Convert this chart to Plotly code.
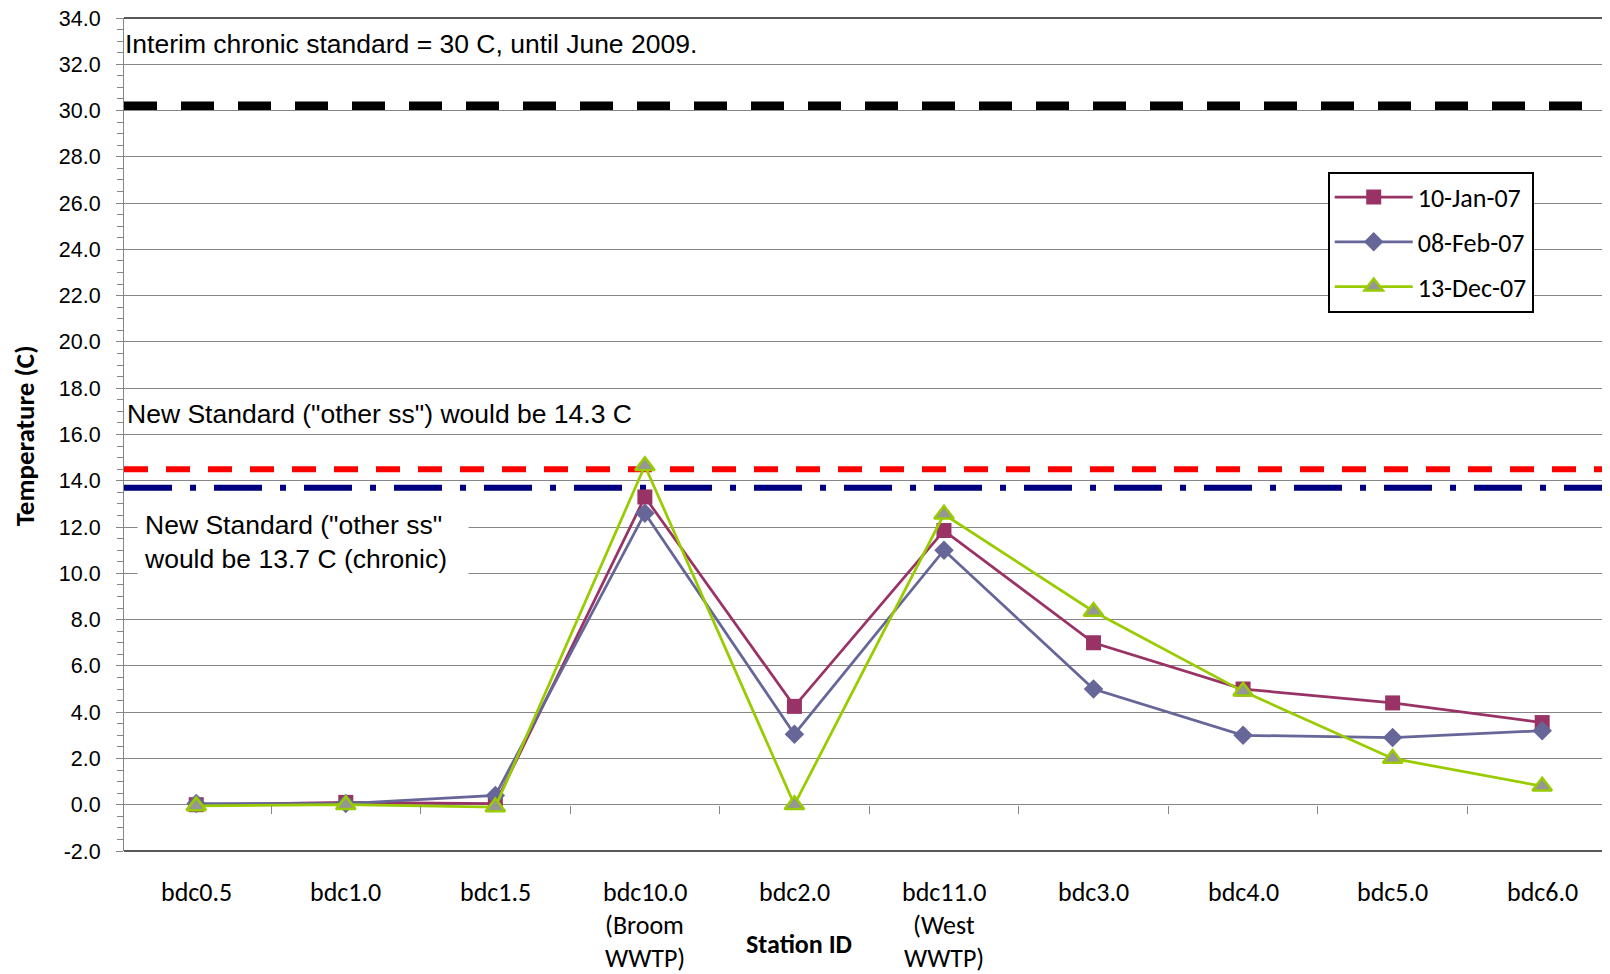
import plotly.graph_objects as go

# stations on the x axis (category names) and the text shown under each one
station_ids = ['bdc0.5', 'bdc1.0', 'bdc1.5', 'bdc10.0', 'bdc2.0',
               'bdc11.0', 'bdc3.0', 'bdc4.0', 'bdc5.0', 'bdc6.0']
tick_labels = ['bdc0.5', 'bdc1.0', 'bdc1.5', 'bdc10.0\n(Broom\nWWTP)', 'bdc2.0',
               'bdc11.0\n(West\nWWTP)', 'bdc3.0', 'bdc4.0', 'bdc5.0', 'bdc6.0']

# temperatures (C) per sampling date
jan_10_07 = [0.0, 0.1, 0.05, 13.3, 4.25, 11.85, 7.0, 5.0, 4.4, 3.55]
feb_08_07 = [0.05, 0.05, 0.4, 12.6, 3.05, 11.0, 5.0, 3.0, 2.9, 3.2]
dec_13_07 = [-0.05, 0.0, -0.1, 14.65, 0.0, 12.55, 8.35, 4.9, 2.0, 0.8]

# standards (horizontal lines)
interim_std = 30.2
other_ss_std = 14.5
chronic_std = 13.7

# y axis ticks (hyphen minus like the original)
y_tick_vals = [-2, 0, 2, 4, 6, 8, 10, 12, 14, 16, 18, 20, 22, 24, 26, 28, 30, 32, 34]
y_tick_text = ['%.1f' % v for v in y_tick_vals]

Y_MIN, Y_MAX = -2, 34
GRID = '#868686'
ARIAL = 'Liberation Sans, Arial, sans-serif'
CALIBRI = 'Carlito, Lato, sans-serif'

fig = go.Figure()

series = [
    ('10-Jan-07', jan_10_07, '#993366', dict(symbol='square', size=15, color='#993366')),
    ('08-Feb-07', feb_08_07, '#666699', dict(symbol='diamond', size=15, color='#666699')),
    ('13-Dec-07', dec_13_07, '#99CC00', dict(symbol='triangle-up', size=17, color='#969696',
                                             line=dict(color='#99CC00', width=2.5))),
]
for name, vals, col, mk in series:
    fig.add_trace(go.Scatter(
        x=station_ids, y=vals, name=name, legendgroup=name,
        mode='lines+markers',
        line=dict(color=col, width=2.75),
        marker=mk,
    ))

# standards drawn across the full plot width
for val, col, w, dash in [(interim_std, 'black', 9, '33px,24px'),
                          (other_ss_std, '#FF0000', 6, '24px,18px'),
                          (chronic_std, '#000080', 6, '48px,18px,6px,18px')]:
    fig.add_shape(type='line', xref='paper', x0=0, x1=1, yref='y', y0=val, y1=val,
                  line=dict(color=col, width=w, dash=dash), layer='between')

# plot frame top/bottom
for yy in [0, 1]:
    fig.add_shape(type='line', xref='paper', x0=0, x1=1, yref='paper', y0=yy, y1=yy,
                  line=dict(color='#202020', width=1.5))

# x tick labels, one annotation per text line
for sid, lab in zip(station_ids, tick_labels):
    for i, part in enumerate(lab.split('\n')):
        fig.add_annotation(x=sid, xref='x', y=0, yref='paper', yanchor='middle',
                           yshift=-41 - 33 * i, text=part, showarrow=False,
                           font=dict(family=CALIBRI, size=26, color='black'))

fig.add_annotation(x=0.452, xref='paper', y=0, yref='paper', yanchor='middle', yshift=-93,
                   text='<b>Station ID</b>', showarrow=False,
                   font=dict(family=CALIBRI, size=26, color='black'))
fig.add_annotation(x=0, xref='paper', xanchor='center', xshift=-100, y=0.498, yref='paper',
                   text='<b>Temperature (C)</b>', textangle=-90, showarrow=False,
                   font=dict(family=CALIBRI, size=27, color='black'))

fig.add_annotation(x=0, xref='paper', xanchor='left', xshift=-1, y=0.969, yref='paper',
                   yanchor='middle', text='Interim chronic standard = 30 C, until June 2009.',
                   showarrow=False, font=dict(family=ARIAL, size=26.5, color='black'))
fig.add_annotation(x=0, xref='paper', xanchor='left', xshift=1, y=0.525, yref='paper',
                   yanchor='middle', text='New Standard ("other ss") would be 14.3 C',
                   showarrow=False, font=dict(family=ARIAL, size=26.5, color='black'))
fig.add_annotation(x=0, xref='paper', xanchor='left', xshift=13, y=0.371, yref='paper',
                   yanchor='middle', text='New Standard ("other ss"<br>would be 13.7 C (chronic)',
                   showarrow=False, align='left', width=318, borderpad=6, bgcolor='white',
                   font=dict(family=ARIAL, size=26.5, color='black'))

fig.update_layout(
    width=1610, height=974,
    margin=dict(l=116, r=0, t=10, b=131),
    paper_bgcolor='white', plot_bgcolor='white',
    showlegend=True,
    legend=dict(x=0.8057, y=0.8156, xanchor='left', yanchor='top',
                bgcolor='white', bordercolor='black', borderwidth=2,
                font=dict(family=CALIBRI, size=26, color='black'),
                traceorder='grouped', tracegroupgap=8, itemwidth=78),
    xaxis=dict(type='category', categoryarray=station_ids, range=[-0.483, 9.507],
               anchor='free', position=(0 - Y_MIN) / (Y_MAX - Y_MIN),
               showticklabels=False, ticks='outside', tickson='boundaries',
               ticklen=8, tickcolor=GRID, showgrid=False, showline=False, zeroline=False),
    yaxis=dict(range=[Y_MIN, Y_MAX], tickmode='array', tickvals=y_tick_vals,
               ticktext=y_tick_text, ticklabeloverflow='allow',
               ticks='outside', ticklen=7, tickcolor=GRID, ticklabelstandoff=11,
               showline=True, linecolor=GRID, linewidth=1,
               showgrid=True, gridcolor=GRID, gridwidth=1, zeroline=False,
               minor=dict(dtick=0.5, ticks='outside', ticklen=6, tickcolor=GRID, showgrid=False),
               tickfont=dict(family=ARIAL, size=21.5, color='black')),
    yaxis2=dict(overlaying='y', matches='y', anchor='x', side='left',
                ticks='inside', ticklen=6, tickcolor=GRID, dtick=2, tick0=0,
                showticklabels=False, showgrid=False, showline=False, zeroline=False,
                minor=dict(dtick=0.5, ticks='inside', ticklen=6, tickcolor=GRID, showgrid=False)),
)

fig.write_html("out.html")
